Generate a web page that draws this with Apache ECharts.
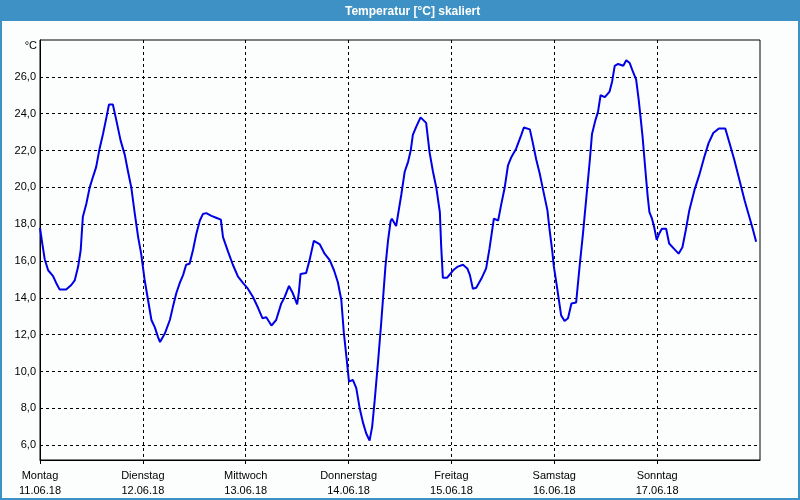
<!DOCTYPE html>
<html>
<head>
<meta charset="utf-8">
<script src="https://cdn.jsdelivr.net/npm/echarts@6/dist/echarts.min.js"></script>
<style>
html,body{margin:0;padding:0;background:#fcfefd;}
#chart{width:800px;height:500px;}
</style>
</head>
<body>
<div id="chart"></div>
<script>
// Day labels (x axis, one per 24 h)
const dayNames = ['Montag', 'Dienstag', 'Mittwoch', 'Donnerstag', 'Freitag', 'Samstag', 'Sonntag'];
const dayDates = ['11.06.18', '12.06.18', '13.06.18', '14.06.18', '15.06.18', '16.06.18', '17.06.18'];
// x tick values (hour of week at each day start)
const xTicks = [0, 24, 48, 72, 96, 120, 144];
// y tick values
const yTicks = [6, 8, 10, 12, 14, 16, 18, 20, 22, 24, 26];

// readings: [hour of week, temperature °C]
const readingsMon = [[0,17.8],[0.5,17.0],[1.1,16.1],[1.9,15.5],[3.0,15.2],[3.8,14.8],[4.6,14.45],[6.1,14.45],[7.3,14.7],[8.1,14.95],[8.9,15.7],[9.5,16.6],[9.8,17.7],[10.0,18.4],[10.8,19.1],[11.6,20.0],[12.4,20.6],[13.1,21.1],[13.9,22.1],[14.7,22.9],[15.5,23.8],[16.1,24.5],[17.0,24.5],[17.8,23.65],[18.8,22.55],[19.8,21.75],[20.5,20.9],[21.3,20.0],[22.1,18.6],[22.9,17.3],[23.6,16.4]];
const readingsTue = [[24.4,15.0],[25.2,13.9],[26.0,12.8],[26.8,12.4],[27.5,11.9],[28.0,11.6],[29.1,12.05],[30.3,12.8],[31.0,13.5],[31.8,14.25],[32.6,14.8],[33.4,15.25],[34.1,15.8],[34.9,15.85],[35.7,16.6],[36.5,17.5],[37.3,18.2],[38.0,18.55],[38.8,18.6],[40.0,18.45],[41.1,18.35],[42.2,18.25],[42.7,17.3],[43.9,16.5],[45.0,15.8],[46.2,15.15],[47.4,14.8]];
const readingsWed = [[48.5,14.5],[49.7,14.05],[50.9,13.45],[51.9,12.9],[52.8,12.95],[54.0,12.5],[55.1,12.8],[56.3,13.7],[57.1,14.05],[58.1,14.65],[59.0,14.25],[60.0,13.65],[60.4,14.3],[60.8,15.3],[62.1,15.35],[62.9,16.05],[63.9,17.1],[65.3,16.9],[66.4,16.4],[67.6,16.05],[68.6,15.5],[69.5,14.85],[70.3,13.9],[70.9,12.1],[71.5,10.8]];
const readingsThu = [[72.1,9.45],[73.0,9.55],[73.8,9.1],[74.6,8.0],[75.4,7.2],[76.1,6.65],[76.9,6.25],[77.5,7.0],[78.1,8.45],[78.9,10.6],[79.6,12.6],[80.6,15.7],[81.2,17.1],[81.8,18.15],[82.1,18.3],[83.1,17.9],[83.5,18.0],[84.3,19.6],[85.1,20.85],[85.9,21.4],[86.5,22.0],[87.0,22.85],[87.8,23.3],[88.8,23.8],[90.1,23.5],[90.9,21.9],[91.7,20.85],[92.5,19.95],[93.3,18.65],[93.6,16.85],[94.0,15.1],[95.0,15.1]];
const readingsFri = [[96.4,15.5],[97.5,15.7],[98.7,15.8],[99.7,15.6],[100.3,15.25],[101.0,14.5],[101.8,14.55],[103.0,15.05],[104.1,15.6],[104.9,16.7],[105.9,18.3],[106.9,18.2],[107.6,19.05],[108.4,19.95],[109.2,21.2],[110.0,21.65],[111.1,22.1],[112.3,22.85],[112.9,23.25],[114.3,23.15],[115.0,22.4],[115.8,21.5],[116.6,20.75],[117.4,19.85],[118.4,18.75],[118.9,17.7],[119.5,16.6],[119.9,15.7]];
const readingsSat = [[120.5,14.8],[121.0,14.0],[121.6,13.05],[122.4,12.75],[123.2,12.9],[124.0,13.7],[125.1,13.75],[125.9,15.7],[126.7,17.5],[127.5,19.5],[128.3,21.5],[128.8,22.9],[129.6,23.65],[130.2,24.1],[130.8,25.0],[131.8,24.9],[132.9,25.2],[133.5,25.75],[134.1,26.6],[134.9,26.7],[136.1,26.6],[136.8,26.9],[137.6,26.75],[138.4,26.25],[139.1,25.85],[139.7,24.75],[140.2,23.65],[140.6,22.75],[141.0,21.65],[141.4,20.55],[141.8,19.5],[142.2,18.65],[142.8,18.3],[143.3,17.85],[143.9,17.15]];
const readingsSun = [[144.5,17.5],[145.1,17.75],[146.1,17.75],[146.8,16.95],[147.8,16.7],[149.0,16.4],[149.9,16.75],[150.7,17.7],[151.5,18.75],[152.7,19.85],[153.8,20.65],[155.0,21.65],[156.0,22.4],[157.1,22.95],[158.4,23.2],[159.9,23.2],[160.9,22.4],[162.0,21.5],[163.2,20.4],[164.4,19.3],[165.5,18.4],[166.3,17.75],[167.1,17.05]];

const allReadings = [].concat(readingsMon, readingsTue, readingsWed, readingsThu, readingsFri, readingsSat, readingsSun);

const FONT = 'Liberation Sans';
const FRAME = '#3d91c5';

const chart = echarts.init(document.getElementById('chart'), null, {renderer: 'canvas'});
chart.setOption({
  animation: false,
  backgroundColor: '#fcfefd',
  title: {
    text: 'Temperatur [°C] skaliert',
    left: 345, top: 6, padding: 0,
    textStyle: {color: '#ffffff', fontFamily: FONT, fontSize: 12, fontWeight: 'bold', lineHeight: 12}
  },
  graphic: [
    {type: 'rect', z: -10, silent: true, shape: {x: 0, y: 0, width: 800, height: 21}, style: {fill: FRAME}},
    {type: 'rect', z: -10, silent: true, shape: {x: 1, y: 1, width: 798, height: 498}, style: {fill: 'none', stroke: FRAME, lineWidth: 2}},
    {type: 'text', silent: true, x: 37, y: 46, style: {text: '°C', fill: '#000', font: '11px "Liberation Sans"', textAlign: 'right', textVerticalAlign: 'middle'}}
  ],
  grid: {left: 40, right: 40, top: 40, bottom: 40, show: true, borderColor: '#000', borderWidth: 1, backgroundColor: 'transparent'},
  xAxis: {
    type: 'value', min: 0, max: 168, interval: 24,
    axisLine: {show: true, lineStyle: {color: '#000', width: 1}},
    axisTick: {show: true, length: 4, lineStyle: {color: '#000'}, customValues: xTicks},
    splitLine: {show: true, lineStyle: {color: '#000', type: [3, 3], width: 1}},
    axisLabel: {
      customValues: xTicks,
      margin: 8, color: '#000', fontFamily: FONT, fontSize: 11, lineHeight: 15,
      formatter: function (v) {
        const i = Math.round(v / 24);
        if (i >= dayNames.length) return '';
        return dayNames[i] + '\n' + dayDates[i];
      }
    }
  },
  yAxis: {
    type: 'value', min: 5.2, max: 28,
    axisLine: {show: true, lineStyle: {color: '#000', width: 1}},
    axisTick: {show: false, customValues: yTicks},
    splitLine: {show: true, lineStyle: {color: '#000', type: [3, 3], width: 1}},
    axisLabel: {
      customValues: yTicks,
      margin: 4, color: '#000', fontFamily: FONT, fontSize: 11,
      formatter: function (v) { return v.toFixed(1).replace('.', ','); }
    }
  },
  series: [{
    type: 'line',
    data: allReadings,
    showSymbol: false,
    lineStyle: {color: '#0000e6', width: 2},
    itemStyle: {color: '#0000e6'}
  }]
});
</script>
</body>
</html>
